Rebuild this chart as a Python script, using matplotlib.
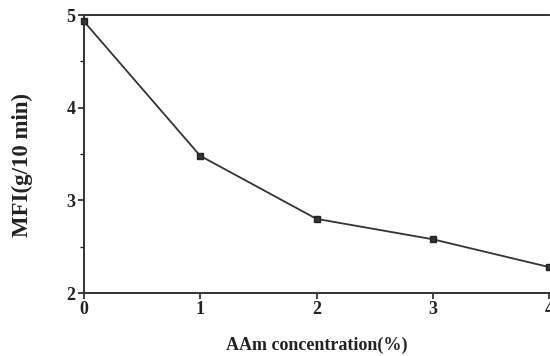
import matplotlib
matplotlib.use("Agg")
import matplotlib.pyplot as plt
from matplotlib.ticker import MultipleLocator

conc = [0, 1, 2, 3, 4]
mfi = [4.93, 3.48, 2.80, 2.58, 2.28]
xticks = [0, 1, 2, 3, 4]
yticks = [2, 3, 4, 5]

plt.rcParams['font.family'] = ['Liberation Serif', 'DejaVu Serif']

fig = plt.figure(figsize=(5.5, 3.56), dpi=100)
ax = fig.add_axes([84/550, 63/356, 465/550, 278/356])
ax.plot(conc, mfi, color='#333333', lw=1.3, marker='s', ms=4.5,
        mfc='#333333', mec='#222222', clip_on=False, zorder=3)
ax.set_xlim(0, 4)
ax.set_ylim(2, 5)
ax.set_xticks(xticks)
ax.set_yticks(yticks)
ax.yaxis.set_minor_locator(MultipleLocator(0.5))
ax.tick_params(axis='both', which='major', direction='out', length=4, width=1.2,
               labelsize=13, colors='#222222', pad=2)
ax.tick_params(axis='y', which='minor', direction='out', length=3, width=1.0, colors='#222222')
for lab in ax.get_xticklabels() + ax.get_yticklabels():
    lab.set_fontweight('bold')
for s in ['left', 'bottom', 'top']:
    ax.spines[s].set_linewidth(1.4)
    ax.spines[s].set_color('#333333')
ax.spines['right'].set_visible(False)
ax.set_xlabel('AAm concentration(%)', fontsize=13, fontweight='bold', labelpad=13, color='#222222')
ax.set_ylabel('MFI(g/10 min)', fontsize=16.5, fontweight='bold', color='#222222')
ax.yaxis.set_label_coords(-0.11, 0.46)
fig.savefig('out.png', dpi=100)
